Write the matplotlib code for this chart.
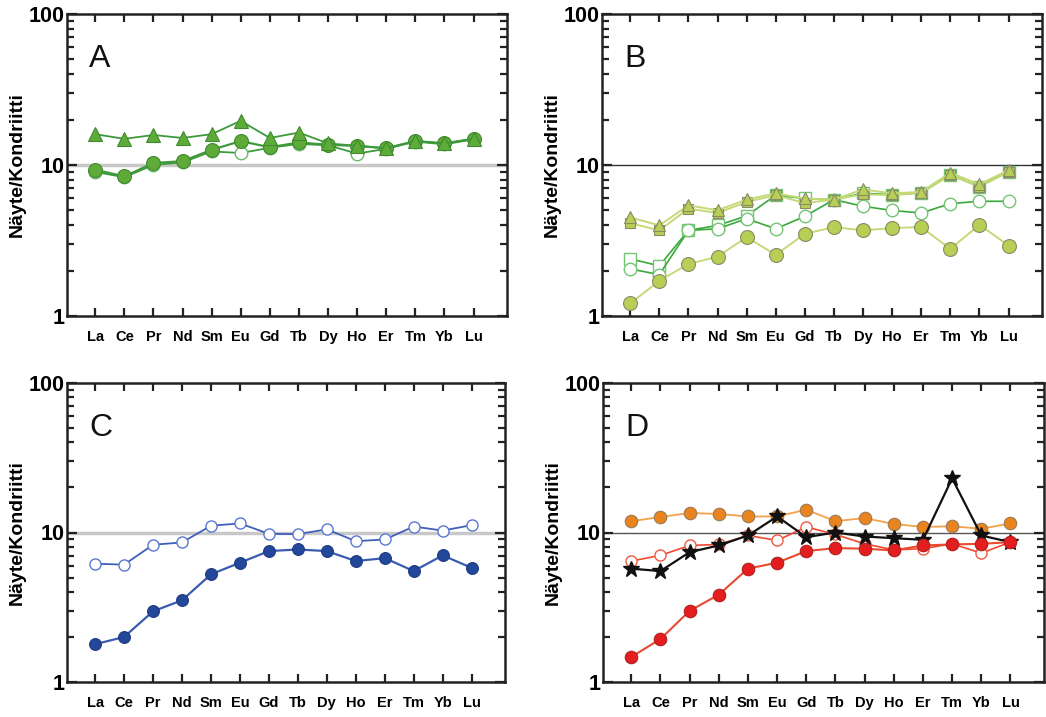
import numpy as np
import matplotlib
matplotlib.use("Agg")
import matplotlib.pyplot as plt
from matplotlib.ticker import LogLocator, NullFormatter, FixedLocator

plt.rcParams['font.family'] = ['Liberation Sans', 'DejaVu Sans']

elements = ["La", "Ce", "Pr", "Nd", "Sm", "Eu", "Gd", "Tb", "Dy", "Ho", "Er", "Tm", "Yb", "Lu"]

# panel A
a_tri = [16.0, 14.9, 15.8, 15.1, 16.0, 19.6, 15.1, 16.4, 13.9, 13.4, 12.9, 14.4, 13.9, 14.9]
a_fill = [9.3, 8.4, 10.3, 10.6, 12.6, 14.4, 13.1, 14.1, 13.6, 13.4, 12.9, 14.4, 13.9, 14.9]
a_open = [9.0, 8.3, 10.0, 10.4, 12.3, 12.0, 13.0, 13.8, 13.5, 11.9, 12.8, 14.3, 13.7, 14.8]

# panel B
b_tri = [4.5, 3.98, 5.41, 5.01, 5.91, 6.48, 6.0, 5.9, 6.89, 6.48, 6.64, 8.89, 7.44, 9.26]
b_sq = [4.12, 3.69, 5.14, 4.81, 5.69, 6.31, 5.6, 5.9, 6.4, 6.3, 6.54, 8.58, 7.17, 9.02]
b_osq = [2.39, 2.15, 3.69, 3.98, 4.6, 6.31, 6.0, 5.9, 6.5, 6.35, 6.55, 8.6, 7.2, 9.05]
b_ocirc = [2.05, 1.88, 3.69, 3.78, 4.41, 3.78, 4.57, 5.9, 5.33, 5.0, 4.81, 5.55, 5.75, 5.75]
b_fill = [1.21, 1.71, 2.21, 2.47, 3.33, 2.54, 3.5, 3.88, 3.69, 3.82, 3.88, 2.78, 4.02, 2.93]

# panel C
c_open = [6.19, 6.09, 8.28, 8.58, 11.1, 11.5, 9.8, 9.75, 10.5, 8.75, 8.98, 10.96, 10.3, 11.2]
c_fill = [1.79, 2.0, 2.97, 3.52, 5.25, 6.28, 7.51, 7.7, 7.51, 6.44, 6.74, 5.52, 7.03, 5.8]

# panel D
d_orange = [11.9, 12.7, 13.5, 13.3, 12.8, 12.8, 14.2, 11.9, 12.5, 11.4, 10.9, 11.0, 10.6, 11.5]
d_star = [5.73, 5.52, 7.39, 8.19, 9.55, 12.8, 9.31, 10.0, 9.4, 9.16, 8.94, 23.0, 9.55, 8.62]
d_open = [6.44, 7.03, 8.19, 8.32, 9.55, 8.85, 10.9, 9.7, 8.4, 7.66, 7.79, 8.4, 7.28, 8.62]
d_red = [1.47, 1.94, 2.99, 3.84, 5.73, 6.28, 7.51, 7.87, 7.79, 7.59, 8.19, 8.32, 8.4, 8.62]

x = np.arange(1, len(elements) + 1)

fig = plt.figure(figsize=(10.46, 7.17), dpi=100)
W, H = 1046, 717
boxes = {"A": (67, 14, 507, 316), "B": (602, 14, 1042, 316),
         "C": (67, 383, 505, 682), "D": (603, 383, 1044, 682)}


def make_ax(letter, refcolor, reflw):
    l, t, r, b = boxes[letter]
    ax = fig.add_axes([l / W, 1 - b / H, (r - l) / W, (b - t) / H])
    ax.set_yscale("log")
    ax.set_ylim(1, 100)
    ax.set_xlim(0.03, 15.15)
    ax.axhline(10, color=refcolor, lw=reflw, zorder=1)
    ax.yaxis.set_major_locator(FixedLocator([1, 10, 100]))
    ax.yaxis.set_minor_locator(LogLocator(base=10, subs=np.arange(2, 10)))
    ax.yaxis.set_minor_formatter(NullFormatter())
    ax.set_yticklabels(["1", "10", "100"], fontsize=15.5, fontweight="bold")
    ax.set_xticks(x)
    ax.set_xticklabels(elements, fontsize=10.5, fontweight="bold")
    ax.tick_params(axis="both", which="both", direction="in", top=True, right=True,
                   width=1.6, color="#222222")
    ax.tick_params(axis="x", length=6, pad=10)
    ax.tick_params(axis="y", which="major", length=7, pad=2)
    ax.tick_params(axis="y", which="minor", length=5)
    for s in ax.spines.values():
        s.set_linewidth(1.8)
        s.set_color("#222222")
    ax.set_ylabel("Näyte/Kondriitti", fontsize=14, fontweight="bold", labelpad=2)
    ax.text(0.05, 0.9, letter, transform=ax.transAxes, fontsize=23,
            va="top", ha="left", color="#111111")
    return ax


# A
ax = make_ax("A", "#c8c8c8", 2.5)
g_line, g_fill, g_edge = "#3c9a3c", "#5fab3a", "#3f8a2c"
ax.plot(x, a_open, "-o", color=g_line, lw=1.3, ms=9, mfc="white", mec="#6ab86a", mew=1.0, zorder=3)
ax.plot(x, a_fill, "-o", color=g_line, lw=1.6, ms=10, mfc=g_fill, mec=g_edge, mew=0.8, zorder=4)
ax.plot(x, a_tri, "-^", color=g_line, lw=1.3, ms=10, mfc=g_fill, mec=g_edge, mew=0.8, zorder=4)

# B
ax = make_ax("B", "#333333", 1.0)
lg_line, lg_fill, lg_edge = "#c4da78", "#b7cf55", "#8a8a66"
dg_line = "#3aa83a"
ax.plot(x, b_osq, "-s", color=dg_line, lw=1.2, ms=8, mfc="white", mec="#74c474", mew=1.0, zorder=3)
ax.plot(x, b_ocirc, "-o", color=dg_line, lw=1.2, ms=9, mfc="white", mec="#74c474", mew=1.0, zorder=3)
ax.plot(x, b_fill, "-o", color=lg_line, lw=1.4, ms=10, mfc=lg_fill, mec=lg_edge, mew=0.8, zorder=4)
ax.plot(x, b_sq, "-s", color=lg_line, lw=1.4, ms=7.5, mfc=lg_fill, mec=lg_edge, mew=0.8, zorder=4)
ax.plot(x, b_tri, "-^", color=lg_line, lw=1.4, ms=8, mfc=lg_fill, mec=lg_edge, mew=0.8, zorder=4)

# C
ax = make_ax("C", "#c8c8c8", 2.5)
ax.plot(x, c_open, "-o", color="#3f5fb8", lw=1.3, ms=8, mfc="white", mec="#5a78d0", mew=1.0, zorder=3)
ax.plot(x, c_fill, "-o", color="#3a5cb0", lw=1.6, ms=8.5, mfc="#23479a", mec="#1d3a80", mew=0.8, zorder=4)

# D
ax = make_ax("D", "#555555", 1.0)
ax.plot(x, d_orange, "-o", color="#f2a24a", lw=1.3, ms=9, mfc="#e9841e", mec="#9a7a5a", mew=0.8, zorder=3)
ax.plot(x, d_open, "-o", color="#ee4a30", lw=1.2, ms=8, mfc="white", mec="#f05a40", mew=1.0, zorder=3)
ax.plot(x, d_star, "-*", color="#111111", lw=1.6, ms=12, mfc="#111111", mec="#111111", zorder=4)
ax.plot(x, d_red, "-o", color="#e84a30", lw=1.5, ms=9, mfc="#e41e1e", mec="#b02020", mew=0.8, zorder=5)

fig.savefig("out.png", dpi=100)
